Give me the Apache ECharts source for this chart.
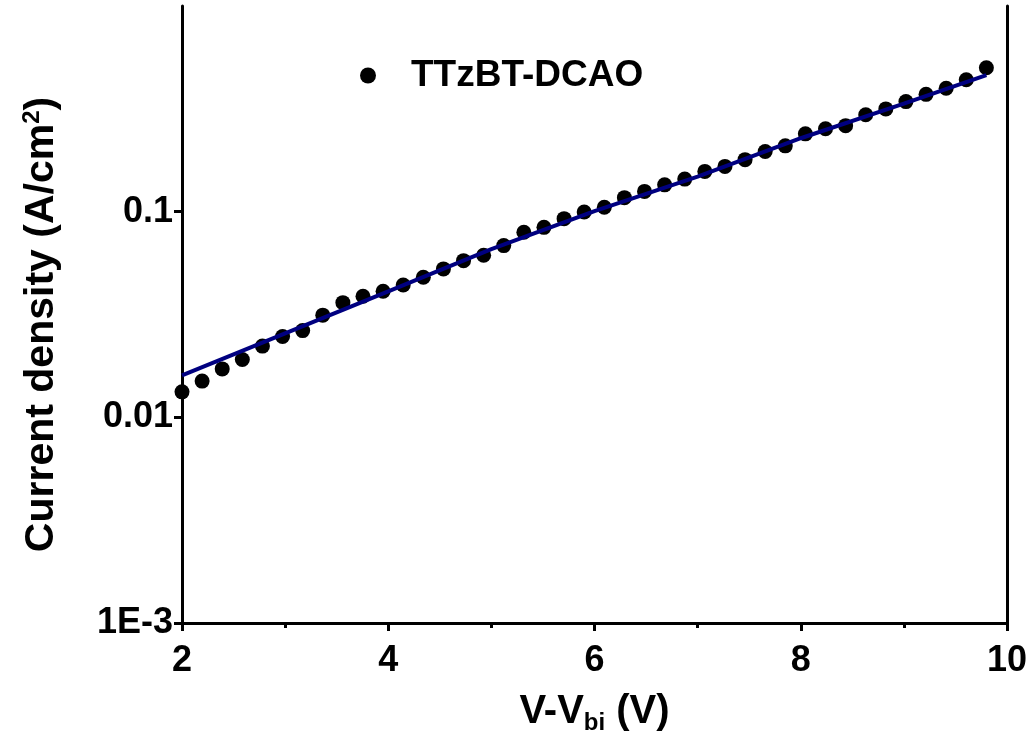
<!DOCTYPE html>
<html><head><meta charset="utf-8">
<script src="https://cdn.jsdelivr.net/npm/echarts@6/dist/echarts.min.js"></script>
<style>html,body{margin:0;padding:0;background:#fff}#c{width:1031px;height:736px}</style>
</head><body><div id="c"></div>
<script>
// Data
const seriesName = 'TTzBT-DCAO';
const xStart = 2, xStep = 0.195;
const currentDensity = [0.0133,0.0150,0.0172,0.0191,0.0222,0.0247,0.0264,0.0314,0.0361,0.0388,
  0.0410,0.0440,0.0480,0.0527,0.0578,0.0614,0.0684,0.0794,0.0839,0.0925,
  0.0997,0.105,0.117,0.1255,0.135,0.144,0.157,0.166,0.179,0.196,
  0.209,0.239,0.253,0.262,0.296,0.316,0.343,0.372,0.398,0.438,0.501];
const voltage = currentDensity.map((_, i) => +(xStart + i * xStep).toFixed(3));
const fitX = [2, 3, 4, 5, 6, 7, 8, 9, 9.8];
const fitY = [0.0160, 0.0256, 0.0410, 0.0658, 0.1007, 0.148, 0.2275, 0.335, 0.461];
const yTickValues = [0.001, 0.01, 0.1];
const yTickLabels = ['1E-3', '0.01', '0.1'];
const xTickLabels = ['2', '4', '6', '8', '10'];

const FONT = 'Liberation Sans, Arial, sans-serif';
const chart = echarts.init(document.getElementById('c'), null, {renderer: 'canvas'});
chart.setOption({
  backgroundColor: '#fff',
  animation: false,
  grid: {left: 182, right: 24, top: 6, bottom: 113, containLabel: false, outerBoundsMode: 'none'},
  legend: {
    data: [seriesName], left: 355, top: 52, icon: 'circle',
    itemWidth: 16, itemHeight: 16,
    textStyle: {fontFamily: FONT, fontWeight: 'bold', fontSize: 37, color: '#000', padding: [0, 0, 0, 30]}
  },
  xAxis: {
    type: 'value', min: 2, max: 10, interval: 2,
    name: '{a|V-V}{b|bi}{a| (V)}', nameLocation: 'middle', nameGap: 66,
    nameTextStyle: {rich: {
      a: {fontFamily: FONT, fontWeight: 'bold', fontSize: 40, color: '#000'},
      b: {fontFamily: FONT, fontWeight: 'bold', fontSize: 24, color: '#000', padding: [22, 0, 0, 0]}
    }},
    axisLine: {lineStyle: {color: '#000', width: 3}},
    axisTick: {length: 8, lineStyle: {color: '#000', width: 3}},
    minorTick: {show: true, splitNumber: 2, length: 5, lineStyle: {color: '#000', width: 3}},
    axisLabel: {margin: 20, fontFamily: FONT, fontWeight: 'bold', fontSize: 36, color: '#000',
      formatter: v => xTickLabels[Math.round((v - 2) / 2)] ?? ''},
    splitLine: {show: false}
  },
  yAxis: [{
    type: 'log', logBase: 10, min: 0.001, max: 1,
    name: '{a|Current density (A/cm}{s|2}{a|)}', nameLocation: 'middle', nameGap: 118, nameRotate: 90,
    nameTextStyle: {padding: [0, 20, 0, 0], rich: {
      a: {fontFamily: FONT, fontWeight: 'bold', fontSize: 41, color: '#000'},
      s: {fontFamily: FONT, fontWeight: 'bold', fontSize: 24, color: '#000', padding: [0, 0, 20, 0]}
    }},
    axisLine: {show: true, lineStyle: {color: '#000', width: 3}},
    axisTick: {length: 8, customValues: yTickValues, lineStyle: {color: '#000', width: 3}},
    axisLabel: {margin: 9, customValues: yTickValues, fontFamily: FONT, fontWeight: 'bold', fontSize: 36, color: '#000',
      formatter: v => { const i = yTickValues.findIndex(t => Math.abs(Math.log10(t) - Math.log10(v)) < 1e-6); return i >= 0 ? yTickLabels[i] : ''; }},
    splitLine: {show: false}
  }, {
    type: 'log', logBase: 10, min: 0.001, max: 1, position: 'right',
    axisLine: {show: true, lineStyle: {color: '#000', width: 3}},
    axisTick: {show: false}, axisLabel: {show: false}, splitLine: {show: false}
  }],
  series: [{
    name: 'fit', type: 'line', data: fitX.map((x, i) => [x, fitY[i]]),
    showSymbol: false, lineStyle: {color: '#000080', width: 4}, itemStyle: {color: '#000080'}, z: 3
  }, {
    name: seriesName, type: 'scatter', data: voltage.map((x, i) => [x, currentDensity[i]]),
    symbol: 'circle', symbolSize: 15, itemStyle: {color: '#000', opacity: 1}, z: 2
  }]
});
</script></body></html>
